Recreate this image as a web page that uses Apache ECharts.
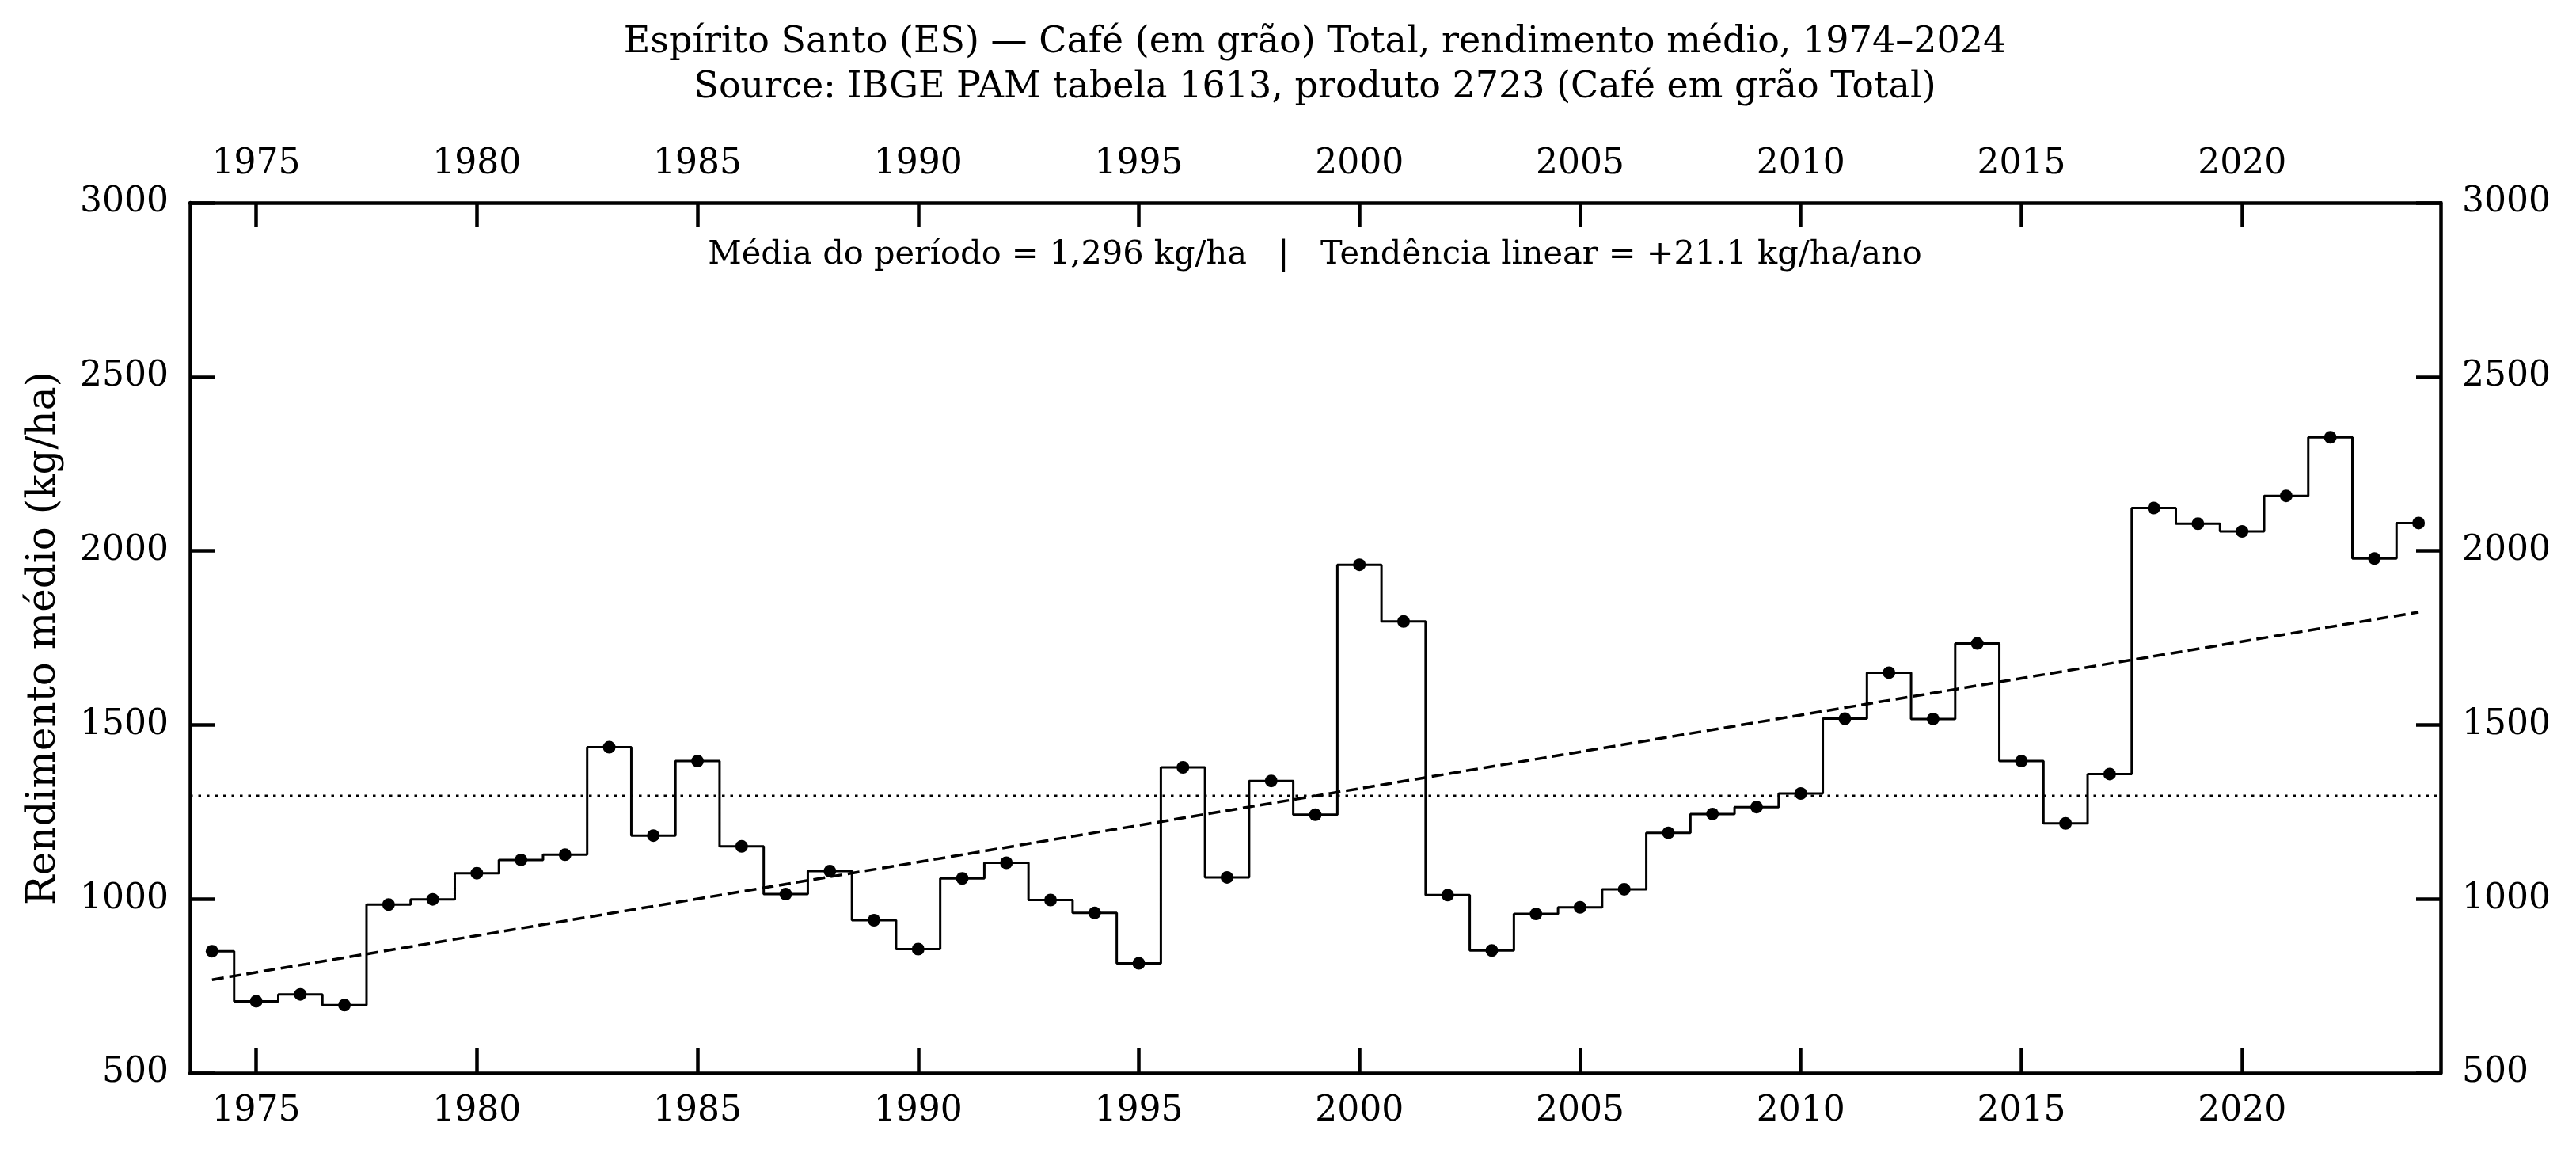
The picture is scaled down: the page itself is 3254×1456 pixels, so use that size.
<!DOCTYPE html>
<html>
<head>
<meta charset="utf-8">
<script src="https://cdn.jsdelivr.net/npm/echarts@6/dist/echarts.min.js"></script>
<style>
  html, body { margin: 0; padding: 0; background: #fff; }
  #chart { width: 3254px; height: 1456px; }
</style>
</head>
<body>
<div id="chart"></div>
<script>
// rendimento médio, café em grão (kg/ha), ES
var years = [1974, 1975, 1976, 1977, 1978, 1979, 1980, 1981, 1982, 1983,
  1984, 1985, 1986, 1987, 1988, 1989, 1990, 1991, 1992, 1993,
  1994, 1995, 1996, 1997, 1998, 1999, 2000, 2001, 2002, 2003,
  2004, 2005, 2006, 2007, 2008, 2009, 2010, 2011, 2012, 2013,
  2014, 2015, 2016, 2017, 2018, 2019, 2020, 2021, 2022, 2023, 2024];
var yieldValues = [850, 706, 726, 695, 984, 999, 1074, 1112, 1127, 1436,
  1182, 1396, 1151, 1014, 1080, 939, 856, 1059, 1104, 997,
  960, 815, 1378, 1062, 1339, 1242, 1960, 1797, 1011, 852,
  957, 976, 1028, 1190, 1244, 1264, 1303, 1518, 1650, 1517,
  1734, 1396, 1217, 1359, 2123, 2078, 2056, 2158, 2326, 1978, 2080];

var meanValue = 1296;
var trendYears = [1974, 2024];
var trendValues = [768, 1824];

var xTicks = [1975, 1980, 1985, 1990, 1995, 2000, 2005, 2010, 2015, 2020];
var yTicks = [500, 1000, 1500, 2000, 2500, 3000];

var titleLines = [
  'Espírito Santo (ES) — Café (em grão) Total, rendimento médio, 1974–2024',
  'Source: IBGE PAM tabela 1613, produto 2723 (Café em grão Total)'
];
var statsText = 'Média do período = 1,296 kg/ha   |   Tendência linear = +21.1 kg/ha/ano';
var yName = 'Rendimento médio (kg/ha)';

var FONT = '"DejaVu Serif", "Liberation Serif", serif';

var dom = document.getElementById('chart');
var myChart = echarts.init(dom, null, { renderer: 'canvas' });

var stepData = years.map(function (y, i) { return [y, yieldValues[i]]; });
var trendData = trendYears.map(function (y, i) { return [y, trendValues[i]]; });

function xAxisFor(pos) {
  return {
    type: 'value',
    position: pos,
    min: 1973.5,
    max: 2024.5,
    splitLine: { show: false },
    axisLine: { show: true, onZero: false, lineStyle: { color: '#000', width: 4.5 } },
    axisTick: { show: true, inside: true, length: 31, customValues: xTicks, lineStyle: { color: '#000', width: 4.5 } },
    axisLabel: {
      show: true, customValues: xTicks, margin: pos === 'top' ? 26 : 27,
      fontFamily: FONT, fontSize: 44, color: '#000',
      formatter: function (v) { return String(v); }
    }
  };
}

function yAxisFor(pos) {
  return {
    type: 'value',
    position: pos,
    min: 500,
    max: 3000,
    interval: 500,
    splitLine: { show: false },
    axisLine: { show: true, onZero: false, lineStyle: { color: '#000', width: 4.5 } },
    axisTick: { show: true, inside: true, length: 31, lineStyle: { color: '#000', width: 4.5 } },
    axisLabel: {
      show: true, margin: 27, padding: [6, 0, 0, 0],
      fontFamily: FONT, fontSize: 44, color: '#000',
      formatter: function (v) { return String(v); }
    }
  };
}

var option = {
  animation: false,
  backgroundColor: '#fff',
  grid: { left: 240, right: 171, top: 256, bottom: 101, containLabel: false },
  xAxis: [xAxisFor('bottom'), xAxisFor('top')],
  yAxis: [yAxisFor('left'), yAxisFor('right')],
  graphic: [
    { type: 'text', x: 1661, y: 54, style: { text: titleLines[0], font: '46px ' + FONT, fill: '#000', textAlign: 'center', textVerticalAlign: 'middle' } },
    { type: 'text', x: 1661, y: 111, style: { text: titleLines[1], font: '46px ' + FONT, fill: '#000', textAlign: 'center', textVerticalAlign: 'middle' } },
    { type: 'text', x: 1661, y: 322, style: { text: statsText, font: '41.5px ' + FONT, fill: '#000', textAlign: 'center', textVerticalAlign: 'middle' } },
    { type: 'text', x: 56, y: 806, rotation: Math.PI / 2, style: { text: yName, font: '50px ' + FONT, fill: '#000', textAlign: 'center', textVerticalAlign: 'middle' } }
  ],
  series: [
    {
      name: 'media',
      type: 'line',
      data: [[1973.5, meanValue], [2024.5, meanValue]],
      symbol: 'none',
      lineStyle: { color: '#000', width: 3.2, type: [3.5, 7] },
      z: 2
    },
    {
      name: 'tendencia',
      type: 'line',
      data: trendData,
      symbol: 'none',
      lineStyle: { color: '#000', width: 3.5, type: [15, 7] },
      z: 2
    },
    {
      name: 'rendimento',
      type: 'line',
      step: 'middle',
      data: stepData,
      symbol: 'circle',
      symbolSize: 16,
      showAllSymbol: true,
      itemStyle: { color: '#000' },
      lineStyle: { color: '#000', width: 3 },
      z: 3
    }
  ]
};

if (option && typeof option === 'object') {
  myChart.setOption(option);
}

window.addEventListener('resize', myChart.resize);
</script>
</body>
</html>
